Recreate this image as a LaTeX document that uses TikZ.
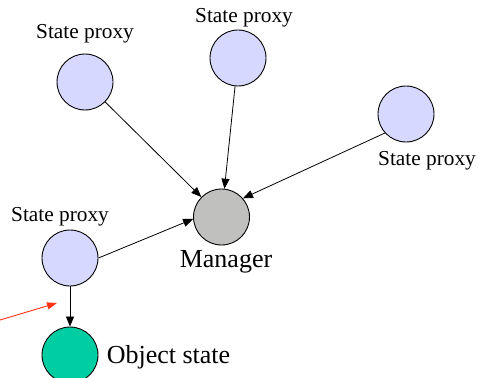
\documentclass[tikz,border=0pt]{standalone}
\usepackage{fontspec}
\setmainfont{Liberation Serif}
\usetikzlibrary{arrows.meta}
\definecolor{proxyblue}{RGB}{214,216,255}
\definecolor{mgrgray}{RGB}{192,193,191}
\definecolor{objgreen}{RGB}{0,206,162}
\definecolor{pointred}{RGB}{255,50,20}

\begin{document}
\begin{tikzpicture}[x=1pt,y=-1pt]

\tikzset{vertex/.style = {shape=circle,draw,line width=0.9pt,minimum size=56pt,inner sep=0pt}}
\tikzset{edge/.style = {-{Triangle[length=10pt,width=8pt]},line width=0.8pt}}
\tikzset{small/.style = {font=\fontsize{21.3}{24}\selectfont,inner sep=0pt}}
\tikzset{big/.style = {font=\fontsize{26}{30}\selectfont,inner sep=0pt}}
\useasboundingbox (0,0) rectangle (478,377);
%verticies
\node[vertex, fill=proxyblue] (p1) at (85,82) {};
\node[vertex, fill=proxyblue] (p2) at (238,58) {};
\node[vertex, fill=proxyblue] (p3) at (406,114) {};
\node[vertex, fill=proxyblue] (p4) at (70,258) {};
\node[vertex, fill=mgrgray] (mgr) at (221.5,217) {};
\node[vertex, fill=objgreen] (obj) at (70,355) {};
%labels
\node[small] (l1) at (85,34) {State proxy};
\node[small] (l2) at (244,18) {State proxy};
\node[small] (l3) at (427,161) {State proxy};
\node[small] (l4) at (60,217) {State proxy};
\node[big] (lm) at (226,262) {Manager};
\node[big] (lo) at (168.5,357) {Object state};
%edges
\draw [edge] (p1) -- (mgr);
\draw [edge] (p2) -- (mgr);
\draw [edge] (p3.222) -- (mgr.41);
\draw [edge] (p4.0) -- (mgr.184);
\draw [edge] (p4) -- (obj);
\coordinate (rs) at (0,320);
\coordinate (rt) at (57,303);
\draw [-{Triangle[length=10pt,width=7pt]}, pointred, line width=0.9pt] (rs) -- (rt);

\end{tikzpicture}
\end{document}
